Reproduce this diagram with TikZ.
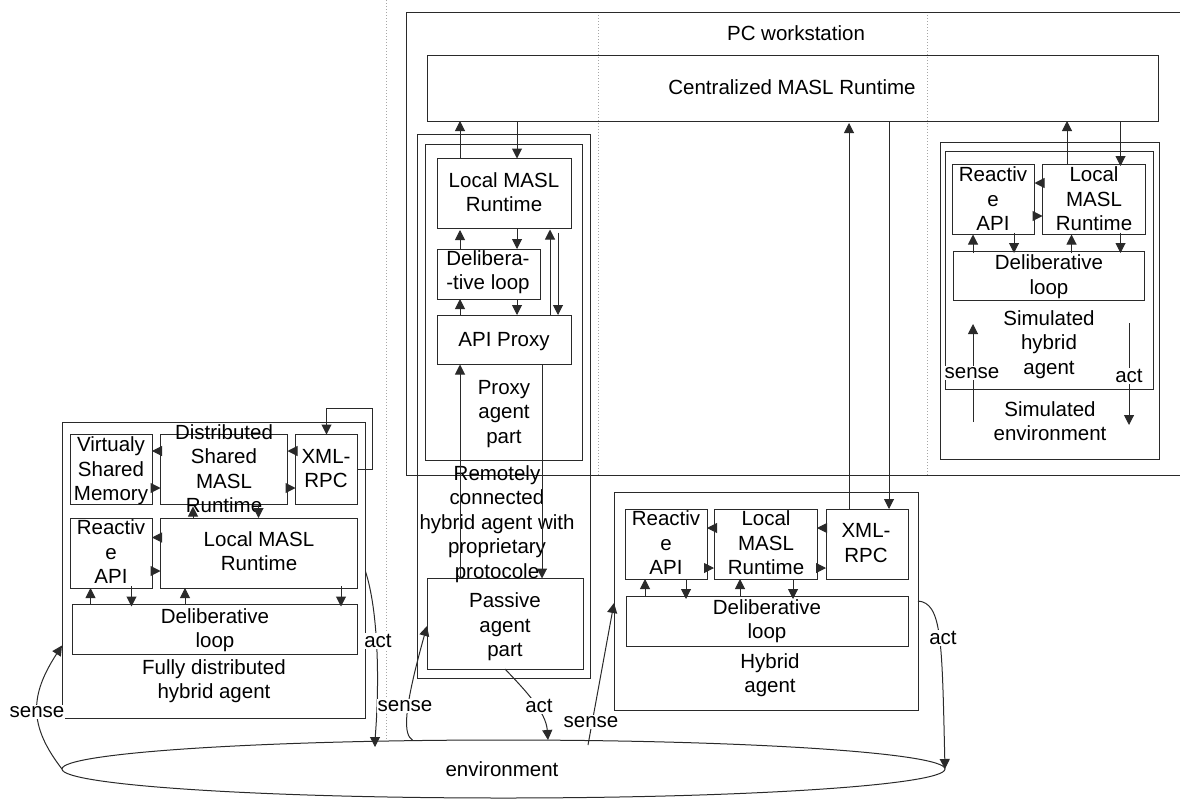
\documentclass[tikz,border=0pt]{standalone}
\usepackage{fontspec}
\setmainfont{Liberation Sans}
\usetikzlibrary{arrows.meta,calc,shapes.geometric}
\tikzset{
  boxn/.style={draw=linec,line width=1pt,inner sep=0pt,outer sep=0pt,rectangle},
  txt/.style={align=center,inner sep=0pt,outer sep=0pt,font=\fontsize{20.5}{24.5}\selectfont},
  lab/.style={fill=white,inner sep=1pt,outer sep=0pt,font=\fontsize{20.5}{24.5}\selectfont},
  arr/.style={draw=linec,line width=1pt,-{Triangle[length=10pt,width=10pt]}},
  plainc/.style={draw=linec,line width=1pt},
  dots/.style={draw=gray!70,line width=1pt,dotted},
}
\definecolor{linec}{HTML}{2A2A2A}
% box from corner to corner
\newcommand{\bx}[5]{\node[boxn,minimum width={#4pt-#2pt},minimum height={#5pt-#3pt}] (#1) at ({(#2+#4)/2},{(#3+#5)/2}) {};}
% vertical connector at x, with end shifts (positive = downwards)
\newcommand{\vc}[5]{\draw[arr] ($(#1,0 |- #2)+(0,#4)$) -- ($(#1,0 |- #3)+(0,#5)$);}
% horizontal connector at y
\newcommand{\hc}[3]{\draw[arr] (#2 |- 0,#1) -- (#3 |- 0,#1);}
\begin{document}
\begin{tikzpicture}[x=1pt,y=-1pt]
\useasboundingbox (0,0) rectangle (1180,798);
% dotted separators
\coordinate (d1t) at (386,0); \coordinate (d1b) at (386,740);
\coordinate (d2t) at (598,12); \coordinate (d2b) at (598,475);
\coordinate (d3t) at (927.5,12); \coordinate (d3b) at (927.5,475);
\draw[dots] (d1t) -- (d1b);
\draw[dots] (d2t) -- (d2b);
\draw[dots] (d3t) -- (d3b);
% environment
\node[ellipse,draw=linec,line width=1pt,minimum width=883pt,minimum height=58pt,inner sep=0pt,outer sep=0pt] (env) at (503.5,769) {};
% PC workstation
\bx{pc}{406.5}{12}{1184}{475}
\bx{cen}{427}{55}{1158}{121}
% fully distributed agent
\bx{fd}{62}{422.5}{365.5}{718.5}
\bx{vsm}{70.5}{434.5}{152}{504.5}
\bx{dsm}{160.5}{434.5}{287.5}{504.5}
\bx{fdx}{295.5}{434.5}{357}{504.5}
\bx{fdr}{70.5}{518}{152}{588}
\bx{fdl}{160.5}{518}{357.5}{588}
\bx{fdd}{72}{604.5}{357.5}{654}
% remote / proxy
\bx{rem}{417}{134}{590}{678}
\bx{prx}{425.5}{144}{582}{460}
\bx{pl}{437}{158.5}{571}{228.5}
\bx{pd}{437}{249}{540}{299}
\bx{pa}{437}{315}{571}{364.5}
\bx{pas}{427}{578.5}{583}{669}
% hybrid agent
\bx{hy}{614}{492}{918}{710}
\bx{hr}{625}{509}{707}{579}
\bx{hl}{714}{509}{817}{579}
\bx{hx}{826}{509}{908}{579}
\bx{hd}{626.5}{596}{908}{646}
% simulated
\bx{se}{940}{142}{1159}{459}
\bx{sa}{945}{151.5}{1153.5}{389}
\bx{sr}{952.5}{164}{1034.5}{234.5}
\bx{sl}{1042.5}{164}{1145}{234.5}
\bx{sd}{953.5}{251}{1144.5}{300.5}
% texts
\node[txt] (t1) at (796,33) {PC workstation};
\node[txt] (t2) at (792,87) {Centralized MASL Runtime};
\node[txt] (t3) at (111,471) {Virtualy\\Shared\\Memory};
\node[txt] (t4) at (224,468.5) {Distributed\\Shared\\MASL\\Runtime};
\node[txt] (t5) at (326,468.5) {XML-\\RPC};
\node[txt] (t6) at (111,552) {Reactiv\\e\\API};
\node[txt] (t7) at (259,551) {Local MASL\\Runtime};
\node[txt] (t8) at (215,630) {Deliberative\\loop};
\node[txt] (t9) at (214,681) {Fully distributed\\hybrid agent};
\node[txt] (t10) at (504,192) {Local MASL\\Runtime};
\node[txt] (t11) at (488,272) {Delibera-\\-tive loop};
\node[txt] (t12) at (504,342) {API Proxy};
\node[txt] (t13) at (504,414) {Proxy\\agent\\part};
\node[txt] (t14) at (497,524) {Remotely\\connected\\hybrid agent with\\proprietary\\protocole};
\node[txt] (t15) at (505,627) {Passive\\agent\\part};
\node[txt] (t16) at (666,543) {Reactiv\\e\\API};
\node[txt] (t17) at (766,543) {Local\\MASL\\Runtime};
\node[txt] (t18) at (866,543) {XML-\\RPC};
\node[txt] (t19) at (767,621) {Deliberative\\loop};
\node[txt] (t20) at (770,675) {Hybrid\\agent};
\node[txt] (t21) at (993,199) {Reactiv\\e\\API};
\node[txt] (t22) at (1094,199) {Local\\MASL\\Runtime};
\node[txt] (t23) at (1049,276.5) {Deliberative\\loop};
\node[txt] (t24) at (1049,344.5) {Simulated\\hybrid\\agent};
\node[txt] (t25) at (1050,421) {Simulated\\environment};
\node[txt] (t26) at (502,769) {environment};
% fully distributed connectors
\draw[plainc] (fdx.east |- 0,469.5) -| (372.5,408) coordinate (lp) -| ($(326.5,0 |- fdx.north)+(0,-12)$);
\draw[arr] ($(326.5,0 |- fdx.north)+(0,-26)$) -- (326.5,0 |- fdx.north);
\hc{451}{fdx.west}{dsm.east}
\hc{488}{dsm.east}{fdx.west}
\hc{451}{dsm.west}{vsm.east}
\hc{488}{vsm.east}{dsm.west}
\vc{193}{fdl.north}{dsm.south}{0}{2}
\vc{258.5}{dsm.south}{fdl.north}{0}{0}
\hc{537.5}{fdl.west}{fdr.east}
\hc{571}{fdr.east}{fdl.west}
\vc{90.5}{fdd.north}{fdr.south}{0}{0}
\vc{131.5}{fdr.south}{fdd.north}{-2}{2}
\vc{185}{fdd.north}{fdl.south}{0}{0}
\vc{341}{fdl.south}{fdd.north}{-2}{2}
% proxy connectors
\vc{460}{pl.north}{cen.south}{0}{0}
\vc{517}{cen.south}{pl.north}{0}{0}
\vc{460}{pd.north}{pl.south}{0}{1.5}
\vc{517}{pl.south}{pd.north}{0}{0}
\vc{460}{pa.north}{pd.south}{0}{0}
\vc{517}{pd.south}{pa.north}{0}{0}
\vc{550}{pa.north}{pl.south}{0}{1}
\vc{558}{pl.south}{pa.north}{4}{0}
\vc{460}{pas.north}{pa.south}{0}{0}
\vc{542}{pa.south}{pas.north}{0}{0}
% hybrid connectors
\vc{849}{hx.north}{cen.south}{0}{2}
\vc{889}{cen.south}{hx.north}{0}{0}
\hc{528}{hl.west}{hr.east}
\hc{568}{hr.east}{hl.west}
\hc{528}{hx.west}{hl.east}
\hc{568}{hl.east}{hx.west}
\vc{645}{hd.north}{hr.south}{0}{0}
\vc{686}{hr.south}{hd.north}{0}{3}
\vc{740}{hd.north}{hl.south}{0}{0}
\vc{793}{hl.south}{hd.north}{0}{3}
% simulated connectors
\vc{1067}{sl.north}{cen.south}{0}{0}
\vc{1120.5}{cen.south}{sl.north}{0}{2}
\hc{183}{sl.west}{sr.east}
\hc{216}{sr.east}{sl.west}
\vc{973}{sd.north}{sr.south}{2}{0}
\vc{1014}{sr.south}{sd.north}{-2}{2}
\vc{1071.5}{sd.north}{sl.south}{2}{0}
\vc{1120.5}{sl.south}{sd.north}{-2}{2}
\coordinate (ssb) at (973,422); \coordinate (sst) at (973,324);
\coordinate (sat) at (1129,323); \coordinate (sab) at (1129,425);
\draw[arr] (ssb) -- (sst);
\draw[arr] (sat) -- (sab);
% sense / act curves
\draw[arr] (env.west) .. controls (28,725) and (30,695) .. (fd.west |- 0,645.5);
\draw[arr] (fd.east |- 0,571.5) .. controls (378,610) and (380,680) .. (375,0 |- env.north) -- ++(0,7);
\draw[arr] (412.5,0 |- env.north) .. controls (404,735) and (402,715) .. (pas.west |- 0,626);
\draw[arr] (pas.south) .. controls (525,690) and (546,712) .. (548,0 |- env.north);
\draw[arr] (588,745) -- (hy.west |- 0,603);
\draw[arr] (hy.east |- 0,601) .. controls (942,603) and (942,640) .. (env.east);
% labels that interrupt lines
\node[lab] (l1) at (37,712) {sense};
\node[lab] (l2) at (378,641) {act};
\node[lab] (l3) at (405,706) {sense};
\node[lab] (l4) at (539,706) {act};
\node[lab] (l5) at (591,722) {sense};
\node[lab] (l6) at (943,638) {act};
\node[lab] (l7) at (972,373) {sense};
\node[lab] (l8) at (1129,376) {act};
\end{tikzpicture}
\end{document}
